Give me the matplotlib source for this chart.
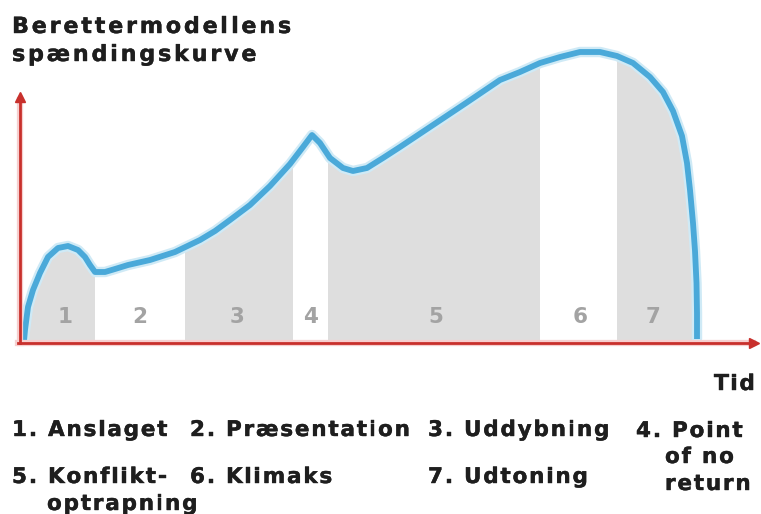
import numpy as np
import matplotlib
matplotlib.use("Agg")
import matplotlib.pyplot as plt
import matplotlib.patheffects as pe
from matplotlib import ft2font
from matplotlib.font_manager import FontProperties, findfont, get_font
from matplotlib.patches import Polygon

W, H = 761, 514

# curve: time vs tension (arbitrary units)
tid = [4, 5, 8, 13, 20, 28, 38, 48, 58, 65, 70, 75, 85, 95, 108, 130, 155,
       180, 195, 210, 230, 250, 270, 283, 292, 300, 310, 323, 333, 347, 363,
       380, 413, 446, 480, 500, 520, 540, 560, 580, 597, 613, 630, 643, 653,
       662, 667, 670, 673, 675, 676.5, 677, 677]
spaending = [2, 13, 36, 53, 70, 86, 95, 97, 93, 86, 78, 71, 71, 74, 78, 83, 91,
             103, 112, 123, 138, 157, 179, 196, 208, 200, 185, 175, 172, 175, 185,
             196, 218, 240, 263, 271, 280, 286, 291, 291, 287, 280, 266, 251, 232,
             207, 180, 153, 120, 92, 60, 30, 4]

# phases: start/end on the time axis, shaded or not
fase_start = [2, 75, 165, 273, 308, 520, 597]
fase_slut = [75, 165, 273, 308, 520, 597, 677]
fase_graa = [True, False, True, False, True, False, True]
fase_nr = ["1", "2", "3", "4", "5", "6", "7"]
fase_label_t = [45, 120, 217, 290, 416, 560, 633]

legend_items = [
    ("1. Anslaget", 12, 436),
    ("2. Præsentation", 190, 436),
    ("3. Uddybning", 428, 436),
    ("4. Point", 636, 437),
    ("of no", 665, 463),
    ("return", 665, 490),
    ("5. Konflikt-", 12, 483),
    ("optrapning", 47, 510),
    ("6. Klimaks", 190, 483),
    ("7. Udtoning", 428, 483),
]

fig = plt.figure(figsize=(W / 100, H / 100), dpi=100)
fig.patch.set_facecolor("white")
ax = fig.add_axes([0, 0, 1, 1])
# x axis origin at pixel 20, baseline at pixel 343
ax.set_xlim(-20, W - 20)
ax.set_ylim(343 - H, 343)
ax.axis("off")

bold_font = get_font(findfont(FontProperties(family="DejaVu Sans", weight="bold")))
try:
    NO_HINT = ft2font.LoadFlags.NO_HINTING
except AttributeError:
    NO_HINT = ft2font.LOAD_NO_HINTING
thicken = [pe.withStroke(linewidth=0.3, foreground="#1e1e1e")]


def advance(ch, size):
    bold_font.set_size(size, 100)
    g = bold_font.load_char(ord(ch), flags=NO_HINT)
    return g.linearHoriAdvance / 65536


def tracked_text(x, y, s, size, track, color="#1e1e1e"):
    # draw a string letter by letter with extra spacing (x, y in pixels, y from top)
    for ch in s:
        if ch != " ":
            fig.text(x / W, 1 - y / H, ch, fontsize=size, fontweight="bold",
                     color=color, va="baseline", path_effects=thicken)
        x += advance(ch, size) + track


# area under the curve, used to clip the shaded bands
area = Polygon(list(zip(tid, spaending)) + [(tid[-1], 3), (tid[0], 3)],
               closed=True, facecolor="none", edgecolor="none")
ax.add_patch(area)
for a, b, g in zip(fase_start, fase_slut, fase_graa):
    if g:
        band = ax.axvspan(a, b, ymin=0, ymax=1, color="#dedede", lw=0, zorder=1)
        band.set_clip_path(area)

for t, nr in zip(fase_label_t, fase_nr):
    ax.text(t, 26, nr, ha="center", va="center", fontsize=15.5,
            fontweight="bold", color="#a3a3a3", zorder=2)

# curve with a soft glow
ax.plot(tid, spaending, color="#cfeaf6", lw=7.5, solid_capstyle="round",
        solid_joinstyle="round", zorder=3)
ax.plot(tid, spaending, color="#4aa9d9", lw=4.2, solid_capstyle="butt",
        solid_joinstyle="round", zorder=4)

# red axes with arrows
red = "#c8302c"
ax.plot([0, 0], [0, 243], color="#f6cfcf", lw=4.5, zorder=5)
ax.plot([-2, 733], [0, 0], color="#f6cfcf", lw=4.5, zorder=5)
ax.plot([0, 0], [0, 243], color=red, lw=2, zorder=6)
ax.plot([-2, 733], [0, 0], color=red, lw=2, zorder=6)
ax.plot([0], [246], marker="^", ms=7, color=red, mec=red, zorder=6)
ax.plot([734], [0], marker=">", ms=7, color=red, mec=red, zorder=6)

# title
tracked_text(12, 33, "Berettermodellens", 16, 2.8)
tracked_text(12, 61, "spændingskurve", 16, 2.8)

tracked_text(714, 390, "Tid", 15.5, 1.7)

for txt, x, y in legend_items:
    tracked_text(x, y, txt, 15.5, 1.8)

fig.savefig("out.png", dpi=100, facecolor="white")
